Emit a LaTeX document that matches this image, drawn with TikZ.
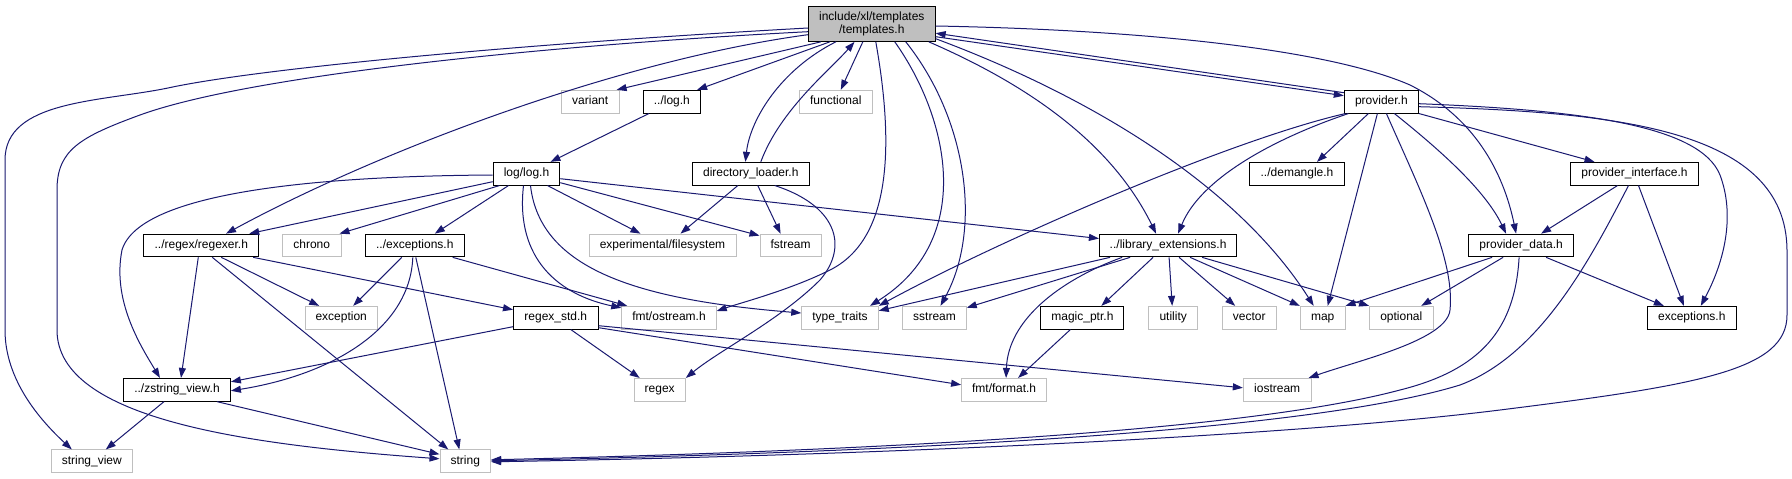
\documentclass[tikz,border=0pt]{standalone}
\usepackage{fontspec}
\setmainfont{Liberation Sans}
\usetikzlibrary{arrows.meta}
\definecolor{edgeblue}{HTML}{191970}
\definecolor{sysgray}{HTML}{BFBFBF}
\definecolor{tplfill}{HTML}{BFBFBF}
\tikzset{
  nd/.style={line width=1pt, inner sep=0pt, minimum height=22.7pt,
    font=\fontsize{12}{13}\selectfont, text height=8.6pt, text depth=2.5pt},
  doc/.style={nd, draw=black},
  sys/.style={nd, draw=sysgray},
  edge/.style={draw=edgeblue, line width=1pt, -{Triangle[length=10pt,width=7pt]}}
}
\begin{document}
\begin{tikzpicture}[x=1pt,y=-1pt]
\fill[white] (0,0) rectangle (1792,479);
\path[use as bounding box] (0,0) rectangle (1792,479);
% nodes
\node[draw=black, fill=tplfill, line width=1pt, inner sep=0pt, minimum width=126.7pt, minimum height=35.3pt, align=center, font=\fontsize{12}{12.7}\selectfont] (tpl) at (871.8,23.7) {include/xl/templates\\/templates.h};
\node[sys, minimum width=57.8pt] (variant) at (590.2,101.7) {variant};
\node[doc, minimum width=57.4pt] (log) at (671.9,101.7) {../log.h};
\node[sys, minimum width=72.7pt] (func) at (835.8,101.7) {functional};
\node[doc, minimum width=74.2pt] (prov) at (1381.4,101.7) {provider.h};
\node[doc, minimum width=66.6pt] (loglog) at (526.5,173.7) {log/log.h};
\node[doc, minimum width=117.1pt] (dirl) at (750.8,173.7) {directory\_loader.h};
\node[doc, minimum width=94.5pt] (dem) at (1297,173.7) {../demangle.h};
\node[doc, minimum width=127.4pt] (pint) at (1634.5,173.7) {provider\_interface.h};
\node[doc, minimum width=114.8pt] (regexer) at (201.3,245.5) {../regex/regexer.h};
\node[sys, minimum width=58.6pt] (chrono) at (311.7,245.5) {chrono};
\node[doc, minimum width=98.8pt] (exc) at (414.8,245.5) {../exceptions.h};
\node[sys, minimum width=147pt] (expfs) at (662.5,245.5) {experimental/filesystem};
\node[sys, minimum width=61.2pt] (fstream) at (790.6,245.5) {fstream};
\node[doc, minimum width=137.4pt] (libext) at (1168.1,245.5) {../library\_extensions.h};
\node[doc, minimum width=104.8pt] (pdata) at (1521.1,245.5) {provider\_data.h};
\node[sys, minimum width=72.3pt] (exception) at (341.2,317.7) {exception};
\node[doc, minimum width=84.6pt] (rstd) at (555.8,317.7) {regex\_std.h};
\node[sys, minimum width=94.5pt] (ostream) at (669,317.7) {fmt/ostream.h};
\node[sys, minimum width=76.5pt] (tt) at (840,317.7) {type\_traits};
\node[sys, minimum width=63.5pt] (sstream) at (934.5,317.7) {sstream};
\node[doc, minimum width=83.1pt] (magic) at (1082.4,317.7) {magic\_ptr.h};
\node[sys, minimum width=49pt] (utility) at (1173.2,317.7) {utility};
\node[sys, minimum width=54pt] (vector) at (1249.2,317.7) {vector};
\node[sys, minimum width=44.7pt] (map) at (1322.7,317.7) {map};
\node[sys, minimum width=63.4pt] (optional) at (1401.3,317.7) {optional};
\node[doc, minimum width=88.7pt] (exch) at (1691.8,317.7) {exceptions.h};
\node[doc, minimum width=106.8pt] (zsv) at (177,389.8) {../zstring\_view.h};
\node[sys, minimum width=51.3pt] (regex) at (659.7,389.8) {regex};
\node[sys, minimum width=85pt] (fmtfmt) at (1004.1,389.8) {fmt/format.h};
\node[sys, minimum width=67.7pt] (iostream) at (1277.2,389.8) {iostream};
\node[sys, minimum width=81.1pt] (sv) at (91.8,461.3) {string\_view};
\node[sys, minimum width=50.6pt] (string) at (465.3,461.3) {string};
% templates.h edges
\draw[edge] ([yshift=-4.3pt]tpl.west) .. controls (500,45) and (250,70) .. (168,88) .. controls (100,102) and (5,100) .. (5,160) -- (5,330) .. controls (5,380) and (40,420) .. ([xshift=-20pt]sv.north);
\draw[edge] ([yshift=-8pt]tpl.west) .. controls (550,45) and (250,75) .. (140,115) .. controls (80,137) and (57,150) .. (57,190) -- (57,330) .. controls (57,420) and (250,445) .. ([yshift=2.5pt]string.west);
\draw[edge] ([yshift=-11pt]tpl.west) .. controls (620,60) and (380,150) .. ([xshift=24.7pt]regexer.north);
\draw[edge] ([xshift=-51pt]tpl.south) -- ([xshift=-3pt]variant.north east);
\draw[edge] ([xshift=-42pt]tpl.south) -- ([xshift=-4pt]log.north east);
\draw[edge] ([xshift=-36pt]tpl.south) .. controls (780,70) and (750,120) .. ([xshift=-5.4pt]dirl.north);
\draw[edge] ([xshift=10pt]dirl.north) .. controls (780,110) and (830,70) .. ([xshift=-17.3pt]tpl.south);
\draw[edge] ([xshift=-9pt]tpl.south) -- ([xshift=5pt]func.north);
\draw[edge] ([xshift=4pt]tpl.south) .. controls (895,150) and (890,240) .. (830,270) .. controls (790,290) and (740,303) .. ([yshift=6.7pt]ostream.east);
\draw[edge] ([xshift=23pt]tpl.south) .. controls (950,120) and (975,240) .. ([xshift=30pt]tt.north);
\draw[edge] ([xshift=34pt]tpl.south) .. controls (968,120) and (982,230) .. ([xshift=6pt]sstream.north);
\draw[edge] ([xshift=57pt]tpl.south) .. controls (1040,90) and (1115,150) .. ([xshift=-12pt]libext.north);
\draw[edge] ([yshift=-15pt]tpl.east) .. controls (1100,100) and (1240,190) .. ([xshift=-9pt]map.north);
\draw[edge] ([yshift=-13pt]tpl.east) -- ([yshift=6pt]prov.west);
\draw[edge] ([yshift=9pt]prov.west) -- ([yshift=-9.5pt]tpl.east);
\draw[edge] ([yshift=-2.3pt]tpl.east) .. controls (1150,30) and (1330,50) .. (1410,85) .. controls (1480,120) and (1505,180) .. ([xshift=-5pt]pdata.north);
% provider.h edges
\draw[edge] ([xshift=-36pt]prov.south) .. controls (1230,140) and (1000,240) .. (tt.north east);
\draw[edge] ([xshift=-33pt]prov.south) .. controls (1270,140) and (1200,180) .. ([xshift=10pt]libext.north);
\draw[edge] ([xshift=-13pt]prov.south) -- ([xshift=20pt]dem.north);
\draw[edge] ([xshift=-4pt]prov.south) -- ([xshift=5pt]map.north);
\draw[edge] ([xshift=5pt]prov.south) .. controls (1420,190) and (1455,260) .. (1450,310) .. controls (1447,340) and (1360,360) .. ([xshift=-3pt]iostream.north east);
\draw[edge] ([xshift=13pt]prov.south) .. controls (1440,150) and (1485,190) .. ([xshift=-15pt]pdata.north);
\draw[edge] (prov.south east) -- ([xshift=-40pt]pint.north);
\draw[edge] ([yshift=-2pt]prov.east) .. controls (1580,110) and (1700,125) .. (1720,175) .. controls (1735,215) and (1725,260) .. ([xshift=9pt]exch.north);
\draw[edge] ([yshift=-5pt]prov.east) .. controls (1620,112) and (1786,130) .. (1787,250) -- (1787,315) .. controls (1787,370) and (1700,385) .. (1500,410) .. controls (1300,435) and (900,455) .. ([yshift=-0.5pt]string.east);
% provider_interface.h edges
\draw[edge] ([xshift=-17pt]pint.south) -- ([xshift=20pt]pdata.north);
\draw[edge] ([xshift=4pt]pint.south) -- ([xshift=-8pt]exch.north);
\draw[edge] ([xshift=-6pt]pint.south) .. controls (1590,260) and (1540,355) .. (1460,385) .. controls (1330,425) and (1000,450) .. ([yshift=0.5pt]string.east);
% provider_data.h edges
\draw[edge] ([xshift=-29pt]pdata.south) -- (map.north east);
\draw[edge] ([xshift=-18pt]pdata.south) -- ([xshift=20pt]optional.north);
\draw[edge] ([xshift=25pt]pdata.south) -- ([xshift=-28pt]exch.north);
\draw[edge] ([xshift=-2pt]pdata.south) .. controls (1515,330) and (1480,370) .. (1400,390) .. controls (1250,430) and (900,450) .. ([yshift=1.5pt]string.east);
% library_extensions.h edges
\draw[edge] ([xshift=-58pt]libext.south) -- ([yshift=7pt]tt.east);
\draw[edge] ([xshift=-38pt]libext.south) -- ([yshift=10pt]sstream.east);
\draw[edge] ([xshift=-46pt]libext.south) .. controls (1060,280) and (1008,320) .. ([xshift=2pt]fmtfmt.north);
\draw[edge] ([xshift=-15pt]libext.south) -- ([xshift=19pt]magic.north);
\draw[edge] ([xshift=1pt]libext.south) -- ([xshift=-1pt]utility.north);
\draw[edge] ([xshift=11pt]libext.south) -- ([xshift=-14pt]vector.north);
\draw[edge] ([xshift=22pt]libext.south) -- (map.north west);
\draw[edge] ([xshift=34pt]libext.south) -- (optional.north west);
\draw[edge] ([xshift=-12pt]magic.south) -- ([xshift=14pt]fmtfmt.north);
% log edges
\draw[edge] ([xshift=-23pt]log.south) -- ([xshift=24pt]loglog.north);
\draw[edge] ([yshift=-1.3pt]loglog.west) .. controls (330,176) and (140,190) .. (122,250) .. controls (112,300) and (140,345) .. ([xshift=-17pt]zsv.north);
\draw[edge] ([yshift=-8pt]loglog.west) -- ([xshift=-10pt]regexer.north east);
\draw[edge] ([xshift=-27pt]loglog.south) -- ([xshift=-2pt]chrono.north east);
\draw[edge] ([xshift=-18pt]loglog.south) -- ([xshift=20pt]exc.north);
\draw[edge] ([xshift=-3pt]loglog.south) .. controls (515,260) and (560,295) .. ([yshift=-2pt]ostream.north west);
\draw[edge] ([xshift=4pt]loglog.south) .. controls (540,270) and (640,300) .. ([yshift=4.7pt]tt.west);
\draw[edge] ([xshift=21pt]loglog.south) -- ([xshift=-22pt]expfs.north);
\draw[edge] ([yshift=-9pt]loglog.east) -- ([yshift=-2pt]fstream.north west);
\draw[edge] ([yshift=-5pt]loglog.east) -- ([yshift=7pt]libext.west);
% directory_loader.h edges
\draw[edge] ([xshift=-13pt]dirl.south) -- ([xshift=18pt]expfs.north);
\draw[edge] ([xshift=7pt]dirl.south) -- ([xshift=-10pt]fstream.north);
\draw[edge] ([xshift=24pt]dirl.south) .. controls (835,205) and (850,245) .. (820,280) .. controls (780,320) and (720,350) .. (regex.north east);
% regexer.h edges
\draw[edge] ([xshift=-3pt]regexer.south) -- ([xshift=4pt]zsv.north);
\draw[edge] ([xshift=20pt]regexer.south) -- ([xshift=-22pt]exception.north);
\draw[edge] ([xshift=11pt]regexer.south) -- ([xshift=-17pt]string.north);
\draw[edge] ([xshift=-6pt]regexer.south east) -- ([yshift=8pt]rstd.west);
% exceptions edges
\draw[edge] ([xshift=-13pt]exc.south) -- ([xshift=12pt]exception.north);
\draw[edge] ([xshift=-2pt]exc.south) .. controls (410,330) and (330,375) .. ([yshift=-1pt]zsv.east);
\draw[edge] ([xshift=1pt]exc.south) -- ([xshift=-6pt]string.north);
\draw[edge] ([xshift=-12pt]exc.south east) -- ([xshift=6pt]ostream.north west);
% regex_std.h edges
\draw[edge] ([yshift=-9pt]rstd.west) -- ([yshift=8pt]zsv.east);
\draw[edge] ([xshift=15pt]rstd.south) -- ([xshift=-20pt]regex.north);
\draw[edge] ([yshift=-10pt]rstd.east) -- ([yshift=5pt]fmtfmt.west);
\draw[edge] ([yshift=-8pt]rstd.east) -- ([yshift=2pt]iostream.west);
% zstring_view edges
\draw[edge] ([xshift=-13pt]zsv.south) -- ([xshift=14pt]sv.north);
\draw[edge] ([xshift=40pt]zsv.south) -- ([yshift=7pt]string.west);
\end{tikzpicture}
\end{document}
